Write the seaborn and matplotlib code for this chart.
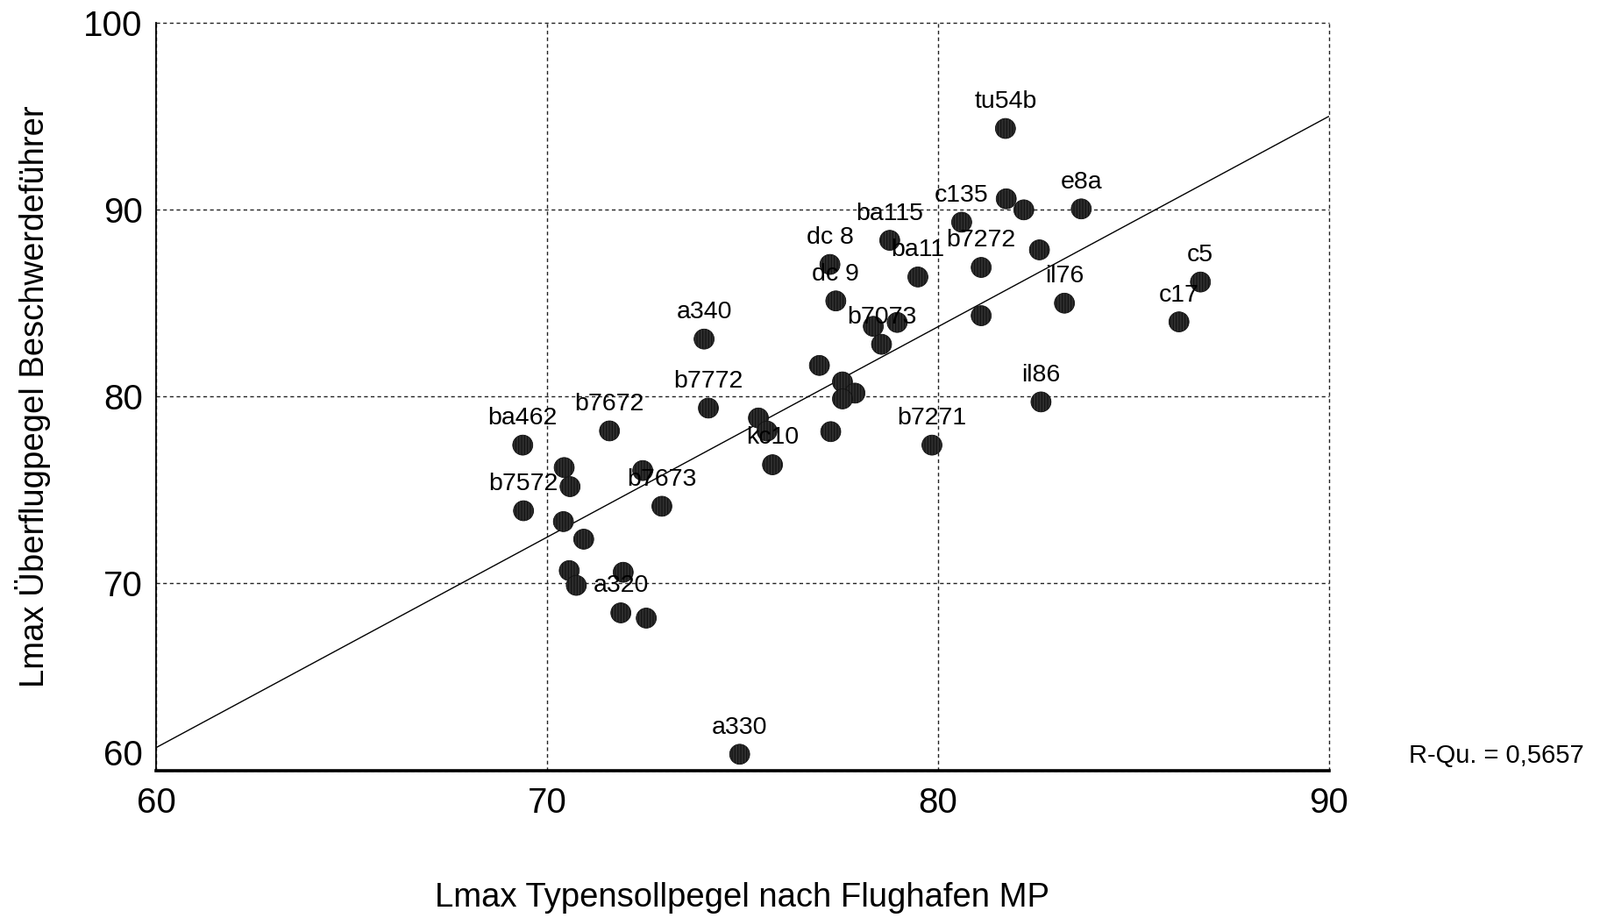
import numpy as np
import pandas as pd
import matplotlib
matplotlib.use("Agg")
import matplotlib.pyplot as plt
import matplotlib.transforms as mtransforms
import seaborn as sns

# ---- data ----
labels = ["tu54b", "", "", "e8a", "c135", "ba115", "", "b7272", "dc 8", "ba11",
          "il76", "dc 9", "", "", "", "b7073", "a340", "", "", "",
          "", "il86", "b7772", "c5", "c17", "", "", "", "b7271", "kc10",
          "b7672", "ba462", "", "", "", "b7673", "b7572", "", "", "",
          "", "", "a320", "", "a330"]
x_soll = [81.73, 81.75, 82.20, 83.67, 80.61, 78.77, 82.60, 81.11, 77.24, 79.49,
          83.24, 77.39, 81.11, 78.35, 78.96, 78.56, 74.02, 76.97, 77.56, 77.88,
          77.56, 82.64, 74.13, 86.72, 86.17, 75.41, 75.63, 77.26, 79.85, 75.77,
          71.60, 69.38, 70.44, 70.59, 72.45, 72.94, 69.40, 70.42, 70.94, 70.57,
          70.75, 71.95, 71.89, 72.54, 74.93]
y_beschw = [94.33, 90.57, 89.98, 90.03, 89.32, 88.35, 87.84, 86.90, 87.06, 86.39,
            84.99, 85.11, 84.32, 83.75, 83.96, 82.79, 83.07, 81.66, 80.78, 80.18,
            79.87, 79.71, 79.38, 86.12, 83.99, 78.85, 78.15, 78.12, 77.40, 76.35,
            78.16, 77.40, 76.20, 75.18, 76.04, 74.13, 73.89, 73.31, 72.37, 70.69,
            69.90, 70.60, 68.43, 68.15, 60.87]
x_ticks = [60, 70, 80, 90]
y_ticks = [60, 70, 80, 90, 100]
x_title = "Lmax Typensollpegel nach Flughafen MP"
y_title = "Lmax Überflugpegel Beschwerdeführer"
r_text = "R-Qu. = 0,5657"

df = pd.DataFrame({"x": x_soll, "y": y_beschw, "label": labels})

# ---- style ----
sns.set_style("white")
plt.rcParams["font.family"] = ["Liberation Sans", "DejaVu Sans"]
plt.rcParams["hatch.linewidth"] = 0.8
plt.rcParams["text.color"] = "black"
plt.rcParams["axes.labelcolor"] = "black"
plt.rcParams["xtick.color"] = "black"
plt.rcParams["ytick.color"] = "black"

W, H = 1825, 1047
fig = plt.figure(figsize=(W / 100, H / 100), dpi=100)
ax = fig.add_axes([178.1 / W, 1 - 878.8 / H, (1515.5 - 178.1) / W, (878.8 - 25.6) / H])

ax.set_xlim(60, 90)
ax.set_ylim(60, 100)

# regression line across the full x range
sns.regplot(data=df, x="x", y="y", ax=ax, scatter=False, ci=None, truncate=False,
            line_kws=dict(color="black", lw=1.0))

sns.scatterplot(data=df, x="x", y="y", ax=ax, s=270, marker="o",
                color="#2e2e2e", edgecolor="#111111", linewidth=0.6,
                hatch="|||||", zorder=3, legend=False)

for _, r in df.iterrows():
    if r["label"]:
        ax.annotate(r["label"], (r["x"], r["y"]), xytext=(0, 22),
                    textcoords="offset points", ha="center", va="center",
                    fontsize=20.5, color="black", zorder=4)

ax.set_xlim(60, 90)
ax.set_ylim(60, 100)
ax.set_xticks(x_ticks)
ax.set_yticks(y_ticks)
ax.tick_params(axis="both", labelsize=29, colors="black", direction="out",
               length=6, width=1.2, pad=5)
ax.tick_params(axis="x", pad=7)

# grid
ax.grid(True, color="#222222", linestyle=(0, (3, 2.5)), linewidth=1.0)
ax.set_axisbelow(True)
for gl in ax.get_xgridlines() + ax.get_ygridlines():
    gl.set_clip_on(False)

for side in ["top", "right"]:
    ax.spines[side].set_visible(False)
ax.spines["left"].set_linewidth(1.3)
ax.spines["bottom"].set_linewidth(2.6)
ax.spines["left"].set_color("black")
ax.spines["bottom"].set_color("black")

# shift lowest y tick label up like in the reference
lab = ax.get_yticklabels()[0]
lab.set_transform(lab.get_transform() +
                  mtransforms.ScaledTranslation(0, 0.21, fig.dpi_scale_trans))

ax.set_xlabel(x_title, fontsize=27.5)
ax.set_ylabel(y_title, fontsize=27.5)
ax.xaxis.set_label_coords(0.5, -0.170)
ax.xaxis.label.set_va("center")
ax.yaxis.set_label_coords(-0.1055, 0.5)
ax.yaxis.label.set_va("center")

fig.text(1607 / W, 1 - 862 / H, r_text, fontsize=21, ha="left", va="center")

fig.savefig("out.png", dpi=100, facecolor="white")
